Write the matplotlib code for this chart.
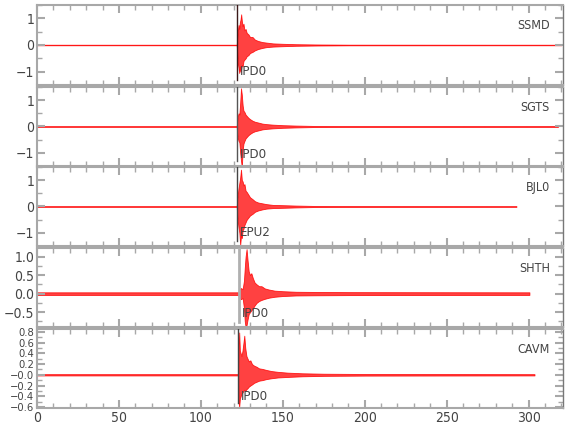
import matplotlib
matplotlib.use('Agg')
import matplotlib.pyplot as plt
from matplotlib.ticker import MultipleLocator, FixedLocator

plt.rcParams['font.family'] = ['DejaVu Sans']
plt.rcParams['font.stretch'] = 'condensed'

# stations, top to bottom
stations = ['SSMD', 'SGTS', 'BJL0', 'SHTH', 'CAVM']
phases = ['IPD0', 'IPD0', 'EPU2', 'IPD0', 'IPD0']
pick_times = [121.8, 121.8, 121.8, 123.4, 122.8]
phase_label_y = [-1.0, -1.05, -1.0, -0.53, -0.4]

# amplitude envelope of each trace (time s, upper, lower)
ssmd_t = [0, 121.9, 122.2, 122.6, 123.0, 123.4, 123.8, 124.2, 124.6, 125.0, 125.5, 126.0, 126.6, 127.3,
          128.0, 129.0, 130.0, 131.5, 133.0, 135.0, 137.5, 140.0, 144.0, 150.0, 158.0, 170.0, 190.0, 320.0]
ssmd_up = [0.01, 0.01, 0.3, 0.55, 0.75, 0.6, 0.85, 0.95, 1.15, 0.9, 0.7, 0.8, 0.55, 0.6,
           0.45, 0.4, 0.3, 0.3, 0.2, 0.15, 0.11, 0.09, 0.06, 0.045, 0.03, 0.02, 0.012, 0.01]
ssmd_lo = [-0.01, -0.01, -0.35, -0.7, -0.85, -1.05, -0.8, -1.0, -0.9, -0.75, -0.8, -0.6, -0.55, -0.5,
           -0.42, -0.38, -0.3, -0.26, -0.2, -0.15, -0.11, -0.08, -0.06, -0.045, -0.03, -0.02, -0.012, -0.01]

sgts_t = [0, 121.9, 122.2, 122.6, 123.0, 123.5, 124.0, 124.5, 125.0, 125.5, 126.0, 126.6, 127.3,
          128.0, 129.0, 130.0, 131.5, 133.0, 135.0, 137.5, 140.0, 144.0, 150.0, 158.0, 170.0, 190.0, 318.0]
sgts_up = [0.01, 0.01, 0.25, 0.4, 0.5, 0.45, 0.9, 1.45, 1.2, 0.8, 0.6, 0.55, 0.45,
           0.4, 0.33, 0.28, 0.22, 0.18, 0.15, 0.11, 0.09, 0.07, 0.05, 0.035, 0.02, 0.015, 0.012]
sgts_lo = [-0.01, -0.01, -0.3, -0.45, -0.55, -0.6, -1.0, -1.3, -1.55, -0.9, -0.65, -0.55, -0.45,
           -0.4, -0.33, -0.28, -0.22, -0.18, -0.15, -0.11, -0.09, -0.07, -0.05, -0.035, -0.02, -0.015, -0.012]

bjl0_t = [0, 121.9, 122.2, 122.6, 123.0, 123.5, 124.0, 124.5, 125.0, 125.5, 126.0, 126.6, 127.3,
          128.0, 129.0, 130.0, 131.5, 133.0, 135.0, 137.5, 140.0, 144.0, 150.0, 158.0, 170.0, 190.0, 292.6]
bjl0_up = [0.01, 0.01, 0.3, 0.5, 0.7, 0.9, 1.1, 1.4, 1.0, 0.95, 0.8, 0.85, 0.6,
           0.55, 0.45, 0.35, 0.28, 0.2, 0.15, 0.12, 0.09, 0.06, 0.05, 0.035, 0.02, 0.015, 0.01]
bjl0_lo = [-0.01, -0.01, -0.35, -0.6, -0.8, -1.0, -1.47, -1.1, -1.2, -0.9, -0.85, -0.7, -0.6,
           -0.5, -0.42, -0.34, -0.28, -0.2, -0.15, -0.11, -0.08, -0.06, -0.05, -0.035, -0.02, -0.015, -0.01]

shth_t = [0, 123.4, 123.6, 124.5, 125.5, 126.3, 126.8, 127.3, 127.9, 128.5, 129.2, 130.0, 130.8,
          131.7, 132.8, 134.0, 135.5, 137.0, 139.0, 141.5, 145.0, 150.0, 158.0, 170.0, 190.0, 300.5]
shth_up = [0.035, 0.035, 0.12, 0.15, 0.12, 0.35, 0.7, 1.0, 1.2, 0.9, 0.6, 0.5, 0.55,
           0.42, 0.3, 0.25, 0.2, 0.2, 0.14, 0.11, 0.08, 0.065, 0.05, 0.045, 0.04, 0.035]
shth_lo = [-0.035, -0.035, -0.12, -0.15, -0.12, -0.4, -0.75, -0.9, -0.85, -0.7, -0.55, -0.5, -0.45,
           -0.4, -0.32, -0.25, -0.2, -0.17, -0.14, -0.11, -0.085, -0.065, -0.05, -0.045, -0.04, -0.035]

cavm_t = [0, 122.8, 123.0, 123.4, 123.8, 124.3, 124.8, 125.4, 126.0, 126.5, 127.1, 127.8, 128.5, 129.3,
          130.2, 131.2, 132.5, 134.0, 135.5, 137.5, 140.0, 143.0, 147.0, 153.0, 162.0, 175.0, 200.0, 303.6]
cavm_up = [0.012, 0.012, 0.5, 0.79, 0.45, 0.4, 0.35, 0.45, 0.6, 0.73, 0.5, 0.35, 0.3, 0.25,
           0.27, 0.2, 0.17, 0.15, 0.12, 0.11, 0.09, 0.07, 0.055, 0.04, 0.028, 0.02, 0.015, 0.012]
cavm_lo = [-0.012, -0.012, -0.5, -0.6, -0.45, -0.4, -0.35, -0.33, -0.3, -0.28, -0.3, -0.27, -0.25, -0.22,
           -0.2, -0.18, -0.15, -0.13, -0.11, -0.1, -0.08, -0.065, -0.05, -0.04, -0.028, -0.02, -0.015, -0.012]

traces = [(ssmd_t, ssmd_up, ssmd_lo), (sgts_t, sgts_up, sgts_lo), (bjl0_t, bjl0_up, bjl0_lo),
          (shth_t, shth_up, shth_lo), (cavm_t, cavm_up, cavm_lo)]

x_ticks = [0, 50, 100, 150, 200, 250, 300]
cavm_ticks = [0.8, 0.6, 0.4, 0.2, 0.0, -0.2, -0.4, -0.6]
cavm_ticklabels = ['0.8', '0.6', '0.4', '0.2', '\u22120.0', '\u22120.2', '\u22120.4', '\u22120.6']

# panel layout in pixels (top, bottom) on a 580x440 canvas
W, H = 580.0, 440.0
left_px, right_px = 37, 563
panel_px = [(5, 85), (87, 166), (167, 246), (248, 327), (329, 408)]
ylims = [(-1.5, 1.5), (-1.5, 1.5), (-1.5, 1.5), (-0.9, 1.23), (-0.62, 0.855)]
pick_colors = ['#3a1a1a', '#555555', '#444444', '#b0b0b0', '#444444']
pick_widths = [1.0, 1.0, 1.0, 2.0, 1.0]

axis_gray = '#a8a8a8'
text_gray = '#444444'

fig = plt.figure(figsize=(5.8, 4.4), dpi=100)

for i, name in enumerate(stations):
    top, bot = panel_px[i]
    ax = fig.add_axes([left_px / W, 1 - bot / H, (right_px - left_px) / W, (bot - top) / H])
    t, up, lo = traces[i]
    ax.fill_between(t, lo, up, facecolor='#ff2020', edgecolor='red', linewidth=0.6, alpha=0.85)

    y0, y1 = ylims[i]
    ax.plot([pick_times[i], pick_times[i]], [y1, y0 + 0.06 * (y1 - y0)],
            color=pick_colors[i], lw=pick_widths[i], zorder=3)

    ax.set_xlim(0, 321)
    ax.set_ylim(y0, y1)

    ax.text(0.975, 0.74, name, transform=ax.transAxes, ha='right', va='center',
            fontsize=9, color=text_gray)
    ax.text(pick_times[i] + 1.8, phase_label_y[i], phases[i], ha='left', va='center',
            fontsize=9.5, color=text_gray)

    ax.xaxis.set_major_locator(FixedLocator(x_ticks))
    ax.xaxis.set_minor_locator(MultipleLocator(10))
    lsize = 10
    if i == 4:
        ax.yaxis.set_major_locator(FixedLocator(cavm_ticks))
        ax.set_yticklabels(cavm_ticklabels)
        ax.yaxis.set_minor_locator(MultipleLocator(0.1))
        lsize = 8
    elif i == 3:
        ax.yaxis.set_major_locator(MultipleLocator(0.5))
        ax.yaxis.set_minor_locator(MultipleLocator(0.25))
    else:
        ax.yaxis.set_major_locator(MultipleLocator(1))
        ax.yaxis.set_minor_locator(MultipleLocator(0.5))

    ax.tick_params(which='both', direction='in', top=True, right=True, colors=axis_gray,
                   labelcolor=text_gray, labelsize=10, pad=2)
    ax.tick_params(axis='y', labelsize=lsize)
    ax.tick_params(which='major', length=6, width=1.5)
    ax.tick_params(which='minor', length=3.5, width=1)
    if i < 4:
        ax.tick_params(axis='x', labelbottom=False)
    for s in ax.spines.values():
        s.set_color(axis_gray)
        s.set_linewidth(1.5)
    ax.spines['right'].set_color('#777777')
    ax.spines['right'].set_linewidth(1)

fig.savefig('out.png', dpi=100)
